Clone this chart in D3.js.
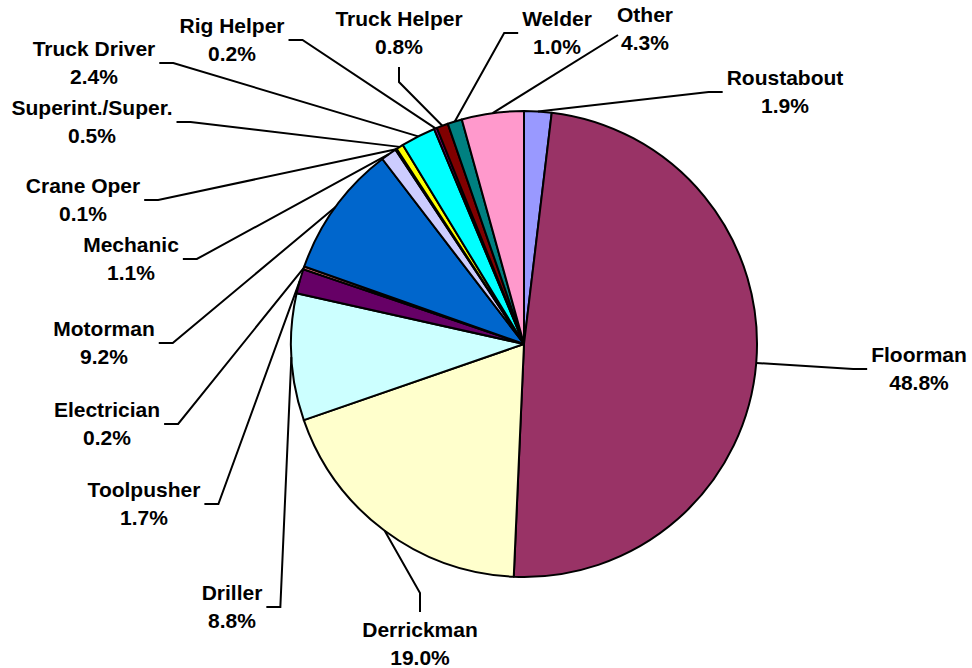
<!DOCTYPE html>
<html>
<head>
<meta charset="utf-8">
<script src="https://cdn.jsdelivr.net/npm/d3@7"></script>
<style>
  body { margin: 0; background: #fff; }
  text { font-family: "Liberation Sans", Arial, sans-serif; font-weight: bold; font-size: 21px; fill: #000; }
</style>
</head>
<body>
<div id="chart"></div>
<script>
// Job categories, clockwise from 12 o'clock
var jobs = ["Roustabout", "Floorman", "Derrickman", "Driller", "Toolpusher", "Electrician",
            "Motorman", "Mechanic", "Crane Oper", "Superint./Super.", "Truck Driver",
            "Rig Helper", "Truck Helper", "Welder", "Other"];
// share of total, percent
var shares = [1.9, 48.8, 19.0, 8.8, 1.7, 0.2, 9.2, 1.1, 0.1, 0.5, 2.4, 0.2, 0.8, 1.0, 4.3];
var sliceColors = ["#9999FF", "#993366", "#FFFFCC", "#CCFFFF", "#660066", "#FF8080",
                   "#0066CC", "#CCCCFF", "#000080", "#FFFF00", "#00FFFF",
                   "#800080", "#800000", "#008080", "#FF99CC"];

// where each label sits: centre x, first baseline, side the leader leaves from
var labelSpots = [
  [785, 85, "l"], [919, 362, "l"], [420, 637, "t"], [232, 600, "r"], [144, 497, "r"],
  [107, 417, "r"], [104, 336, "r"], [131, 252, "r"], [83, 193, "r"], [92, 115, "r"],
  [94, 56, "r"], [232, 33, "r"], [399, 26, "b"], [557, 26, "l"], [645, 22, "c"]
];

var width = 972, height = 668;
var cx = 524, cy = 344, radius = 233;
var lineGap = 28;

var svg = d3.select("#chart").append("svg")
    .attr("width", width)
    .attr("height", height);

var pie = d3.pie().sort(null).value(function(d) { return d; });
var arc = d3.arc().innerRadius(0).outerRadius(radius);
var slices = pie(shares);

var g = svg.append("g").attr("transform", "translate(" + cx + "," + cy + ")");

g.selectAll("path.slice")
    .data(slices)
  .enter().append("path")
    .attr("class", "slice")
    .attr("d", arc)
    .attr("fill", function(d, i) { return sliceColors[i]; })
    .attr("stroke", "#000")
    .attr("stroke-width", 2)
    .attr("stroke-linejoin", "round");

var fmt = d3.format(".1f");

slices.forEach(function(d, i) {
  var spot = labelSpots[i];
  var lx = spot[0], ly = spot[1], side = spot[2];

  var t1 = svg.append("text").attr("x", lx).attr("y", ly)
      .attr("text-anchor", "middle").text(jobs[i]);
  var t2 = svg.append("text").attr("x", lx).attr("y", ly + lineGap)
      .attr("text-anchor", "middle").text(fmt(shares[i]) + "%");

  var half = Math.max(t1.node().getComputedTextLength(), t2.node().getComputedTextLength()) / 2;
  var mid = ly + 7;

  // point on the rim at the middle of the slice
  var a = (d.startAngle + d.endAngle) / 2;
  var ex = cx + radius * Math.sin(a), ey = cy - radius * Math.cos(a);

  var pts;
  if (side == "l") pts = [[lx - half - 4, mid], [lx - half - 18, mid]];
  else if (side == "r") pts = [[lx + half + 4, mid], [lx + half + 18, mid]];
  else if (side == "t") pts = [[lx, ly - 25], [lx, ly - 44]];
  else if (side == "b") pts = [[lx, ly + lineGap + 13], [lx, ly + lineGap + 28]];
  else pts = [[lx - half + 1, ly + 13]]; // straight into the lower left corner
  pts.push([ex, ey]);

  svg.append("path")
      .attr("d", d3.line()(pts))
      .attr("fill", "none")
      .attr("stroke", "#000")
      .attr("stroke-width", 2);
});
</script>
</body>
</html>
